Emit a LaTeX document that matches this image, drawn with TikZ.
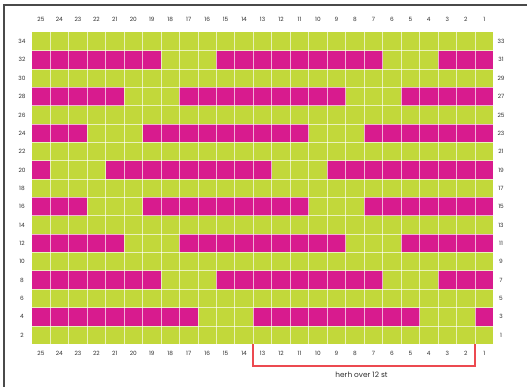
\documentclass[tikz,border=0pt]{standalone}
\usepackage{fontspec}
\setmainfont{Poppins}
\definecolor{limec}{HTML}{C2D83A}
\definecolor{pinkc}{HTML}{D81B8E}
\definecolor{bracketc}{RGB}{236,74,80}
\definecolor{framec}{HTML}{4A4A4A}
\definecolor{labc}{HTML}{2E2E2E}
\begin{document}
\begin{tikzpicture}[x=1pt,y=-1pt,
  lab/.style={font=\fontsize{5.8}{6}\selectfont, text=labc, inner sep=0pt},
  note/.style={font=\fontsize{7.4}{8}\selectfont, text=labc, inner sep=0pt},
  gridline/.style={draw=white, draw opacity=0.65, line width=0.8pt},
  brk/.style={draw=bracketc, line width=1.8pt, line cap=rect}]
\useasboundingbox (0,0) rectangle (527,387);
\def\gx{31.7}\def\gy{32.3}\def\cw{18.47}\def\ch{18.35}
% frame
\draw[framec, line width=1.3pt] (4,387) -- (4,5) -- (527,5);
% background cells
\fill[limec] (\gx,\gy) rectangle ({\gx+25*\cw},{\gy+17*\ch});
\foreach \r/\a/\b in {1/0/6,1/10/18,1/22/24, 3/0/4,3/8/16,3/20/24,
  5/0/2,5/6/14,5/18/24, 7/0/0,7/4/12,7/16/24, 9/0/2,9/6/14,9/18/24,
  11/0/4,11/8/16,11/20/24, 13/0/6,13/10/18,13/22/24, 15/0/8,15/12/20,15/24/24}
  \fill[pinkc] ({\gx+\a*\cw},{\gy+\r*\ch}) rectangle ({\gx+(\b+1)*\cw},{\gy+(\r+1)*\ch});
% grid lines
\foreach \i in {1,...,24}
  \draw[gridline] ({\gx+\i*\cw},\gy) -- ({\gx+\i*\cw},{\gy+17*\ch});
\foreach \r in {1,...,16}
  \draw[gridline] (\gx,{\gy+\r*\ch}) -- ({\gx+25*\cw},{\gy+\r*\ch});
% bracket
\coordinate (bl) at ({\gx+12*\cw},{\gy+17*\ch+1});
\coordinate (br) at ({\gx+24*\cw},{\gy+17*\ch+1});
\coordinate (bl2) at ({\gx+12*\cw},365.7);
\coordinate (br2) at ({\gx+24*\cw},365.7);
\draw[brk] (bl) -- (bl2) -- (br2) -- (br);
% column labels
\foreach \i [evaluate=\i as \s using int(25-\i)] in {0,...,24} {
  \node[lab] (top\i) at ({\gx+(\i+0.5)*\cw},19.5) {\s};
  \node[lab] (bot\i) at ({\gx+(\i+0.5)*\cw},353) {\s};
}
% row labels
\foreach \r [evaluate=\r as \lft using int(34-2*\r), evaluate=\r as \rgt using int(33-2*\r)] in {0,...,16} {
  \node[lab] (left\r) at (22,{\gy+(\r+0.5)*\ch}) {\lft};
  \node[lab] (right\r) at (501,{\gy+(\r+0.5)*\ch}) {\rgt};
}
\node[note] (herh) at (361.5,374.5) {herh over 12 st};
\end{tikzpicture}
\end{document}
